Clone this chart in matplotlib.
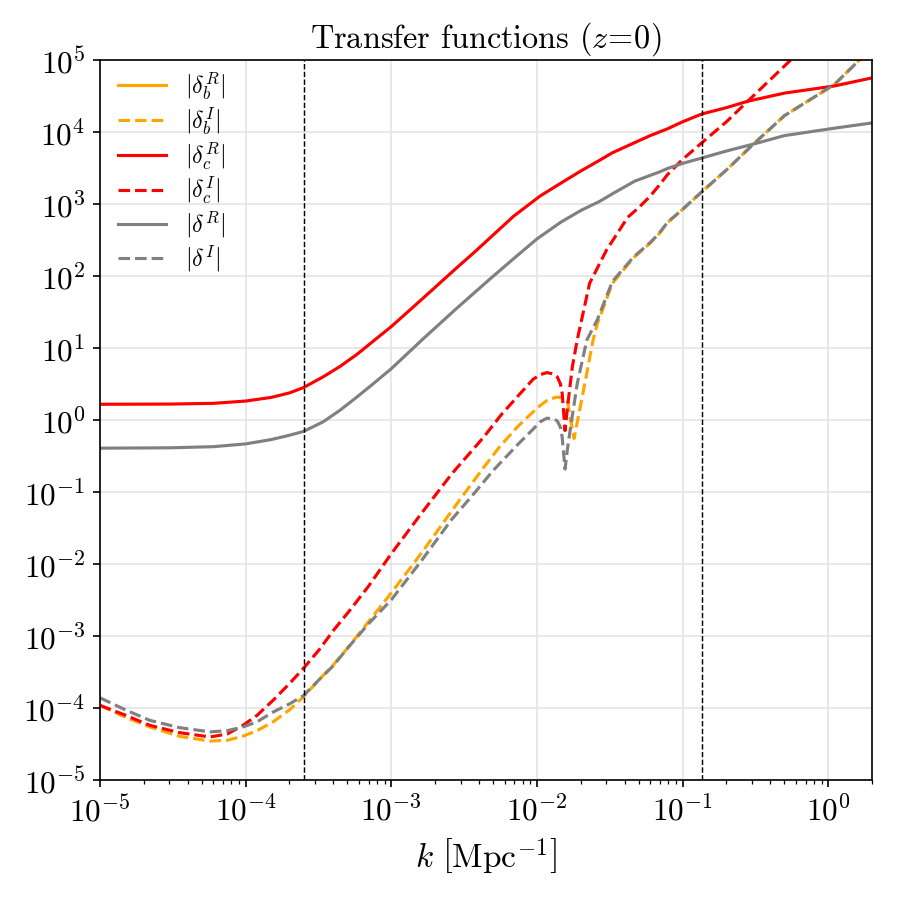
import matplotlib
matplotlib.use("Agg")
import matplotlib.pyplot as plt

plt.rcParams['font.family'] = 'serif'
plt.rcParams['font.serif'] = ['cmr10']
plt.rcParams['mathtext.fontset'] = 'cm'
plt.rcParams['axes.formatter.use_mathtext'] = True

# |delta_c^R| (rojo, continua)
k_cR = [1e-5, 3e-5, 6e-5, 1e-4, 1.5e-4, 2e-4, 2.5e-4, 3.4e-4, 4.45e-4, 5.8e-4,
        7.5e-4, 1e-3, 1.66e-3, 2.8e-3, 3.76e-3, 6.9e-3, 1.05e-2, 1.45e-2, 2e-2,
        2.7e-2, 3.3e-2, 4.7e-2, 6e-2, 7.9e-2, 0.1, 0.136, 0.2, 0.28, 0.5, 1.1, 2.0]
d_cR = [1.67, 1.68, 1.72, 1.85, 2.08, 2.4, 2.85, 4.0, 5.6, 8.2,
        12.5, 20, 50, 130, 220, 680, 1300, 1950, 2900,
        4100, 5200, 7200, 9000, 11200, 14000, 18000, 22000, 27000, 35000, 44000, 57000]

# |delta^R| (gris, continua)
k_R = [1e-5, 3e-5, 6e-5, 1e-4, 1.5e-4, 2e-4, 2.5e-4, 3.4e-4, 4.45e-4, 5.8e-4,
       7.5e-4, 1e-3, 1.66e-3, 2.8e-3, 4.8e-3, 6.9e-3, 1e-2, 1.45e-2, 2e-2,
       2.7e-2, 3.3e-2, 4.7e-2, 6.9e-2, 7.9e-2, 0.1, 0.136, 0.2, 0.31, 0.5, 1.1, 2.0]
d_R = [0.41, 0.415, 0.43, 0.47, 0.54, 0.62, 0.70, 0.95, 1.38, 2.1,
       3.2, 5.2, 13.6, 35.6, 93, 175, 330, 560, 820,
       1100, 1400, 2100, 2800, 3150, 3700, 4400, 5500, 6900, 9000, 11400, 13500]

# |delta_c^I| (rojo, discontinua)
k_cI = [1e-5, 1.5e-5, 2.2e-5, 3.5e-5, 5.7e-5, 7.5e-5, 9.6e-5, 1.2e-4, 1.55e-4, 2e-4,
        2.5e-4, 3.2e-4, 4e-4, 5.2e-4, 7e-4, 1e-3, 1.6e-3, 2.6e-3, 4.3e-3, 5.7e-3,
        7.3e-3, 9.4e-3, 1.05e-2, 1.17e-2, 1.3e-2, 1.38e-2, 1.45e-2, 1.49e-2, 1.56e-2,
        1.62e-2, 1.75e-2, 1.89e-2, 2.3e-2, 3e-2, 4.2e-2, 5e-2, 6e-2, 7e-2, 7.9e-2,
        0.1, 0.136, 0.2, 0.28, 0.55, 2.0]
d_cI = [1.1e-4, 8e-5, 5.8e-5, 4.6e-5, 4.0e-5, 4.4e-5, 5.8e-5, 8e-5, 1.3e-4, 2.2e-4,
        3.6e-4, 6.5e-4, 1.2e-3, 2.3e-3, 5e-3, 0.014, 0.05, 0.18, 0.58, 1.2,
        2.1, 3.7, 4.3, 4.6, 4.4, 4.0, 3.2, 2.4, 0.72,
        1.5, 5.5, 13, 80, 230, 660, 900, 1300, 1900, 2600,
        4200, 7200, 14000, 27000, 1e5, 1.1e6]

# |delta_b^I| (naranja, discontinua)
k_bI = [1e-5, 1.5e-5, 2.2e-5, 3.5e-5, 5.7e-5, 7.5e-5, 9.6e-5, 1.2e-4, 1.55e-4, 2e-4,
        2.5e-4, 3.2e-4, 4e-4, 5e-4, 7e-4, 1e-3, 1.6e-3, 2.6e-3, 3.1e-3, 4.3e-3,
        5.5e-3, 7.3e-3, 9e-3, 1.05e-2, 1.2e-2, 1.38e-2, 1.52e-2, 1.62e-2, 1.69e-2,
        1.8e-2, 1.98e-2, 2.2e-2, 2.43e-2, 2.6e-2, 3.3e-2, 4.6e-2, 6e-2, 6.9e-2,
        7.9e-2, 0.1, 0.136, 0.2, 0.31, 0.5, 1.1, 2.0]
d_bI = [1.1e-4, 7.5e-5, 5.5e-5, 4.1e-5, 3.5e-5, 3.6e-5, 4.1e-5, 4.9e-5, 6.5e-5, 9.5e-5,
        1.45e-4, 2.5e-4, 4e-4, 6.8e-4, 1.6e-3, 4e-3, 0.014, 0.055, 0.09, 0.22,
        0.42, 0.8, 1.2, 1.6, 1.95, 2.1, 2.05, 1.9, 1.1,
        0.56, 1.5, 4.5, 13, 22, 80, 180, 290, 390,
        560, 850, 1500, 3000, 7000, 17000, 46000, 1.5e5]

# |delta^I| (gris, discontinua)
k_I = [1e-5, 1.5e-5, 2.2e-5, 3.5e-5, 5.7e-5, 7.5e-5, 9.6e-5, 1.2e-4, 1.55e-4, 2e-4,
       2.5e-4, 3.2e-4, 4e-4, 5e-4, 7e-4, 1e-3, 1.6e-3, 2.6e-3, 3.6e-3, 5e-3,
       7.3e-3, 9.4e-3, 1.05e-2, 1.17e-2, 1.3e-2, 1.38e-2, 1.45e-2, 1.49e-2, 1.56e-2,
       1.62e-2, 1.69e-2, 1.89e-2, 2.2e-2, 2.6e-2, 3.3e-2, 4.6e-2, 6e-2, 6.9e-2,
       7.9e-2, 0.1, 0.136, 0.2, 0.31, 0.5, 1.1, 2.0]
d_I = [1.4e-4, 9.5e-5, 6.8e-5, 5.4e-5, 4.7e-5, 4.9e-5, 5.5e-5, 6.5e-5, 8.9e-5, 1.15e-4,
       1.5e-4, 2.5e-4, 3.9e-4, 6.8e-4, 1.5e-3, 3.2e-3, 0.011, 0.042, 0.09, 0.2,
       0.45, 0.75, 0.95, 1.07, 1.05, 0.98, 0.8, 0.59, 0.21,
       0.4, 0.72, 3.2, 13, 25, 85, 185, 295, 395,
       565, 850, 1500, 3000, 7000, 17000, 46000, 1.5e5]

# escalas marcadas con lineas verticales
k_lines = [2.5e-4, 0.136]

fig = plt.figure(figsize=(6, 6), dpi=150)
ax = fig.add_axes([0.111, 0.133, 0.858, 0.80])

lw = 1.5
h1, = ax.plot([], [], color='orange', lw=lw, label=r'$|\delta_b^R|$')
h2, = ax.plot(k_bI, d_bI, color='orange', lw=lw, ls='--', label=r'$|\delta_b^I|$')
h3, = ax.plot(k_cR, d_cR, color='red', lw=lw, label=r'$|\delta_c^R|$')
h4, = ax.plot(k_cI, d_cI, color='red', lw=lw, ls='--', label=r'$|\delta_c^I|$')
h5, = ax.plot(k_R, d_R, color='gray', lw=lw, label=r'$|\delta^R|$')
h6, = ax.plot(k_I, d_I, color='gray', lw=lw, ls='--', label=r'$|\delta^I|$')

for kl in k_lines:
    ax.axvline(kl, color='black', ls='--', lw=0.7)

ax.set_xscale('log')
ax.set_yscale('log')
ax.set_xlim(1e-5, 2)
ax.set_ylim(1e-5, 1e5)
ax.set_yticks([10.0**p for p in range(-5, 6)])
ax.grid(True, which='major', color='#e4e4e4', lw=0.8)
ax.set_axisbelow(True)
ax.tick_params(labelsize=15)
ax.set_xlabel(r'$k\ \left[\mathrm{Mpc}^{-1}\right]$', fontsize=16)
ax.set_title(r'Transfer functions $(z\!=\!0)$', fontsize=15.5)
ax.legend(handles=[h1, h2, h3, h4, h5, h6], loc='upper left', frameon=False,
          fontsize=11.5, labelspacing=0.15, borderaxespad=0,
          bbox_to_anchor=(0.011, 1.0))

fig.savefig('out.png', dpi=150)
